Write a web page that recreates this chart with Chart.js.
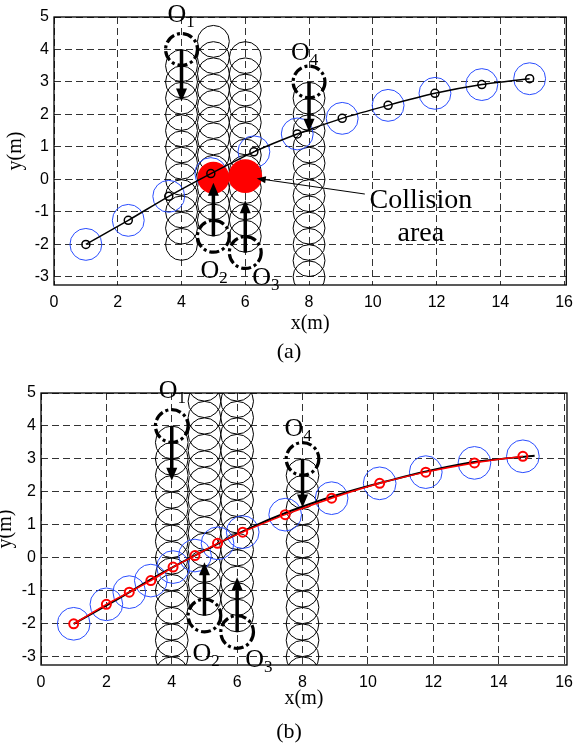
<!DOCTYPE html>
<html>
<head>
<meta charset="utf-8">
<script src="https://cdn.jsdelivr.net/npm/chart.js@4.4.1/dist/chart.umd.min.js"></script>
<style>
  html, body { margin: 0; padding: 0; background: #fff; }
  #wrapA { position: absolute; left: 0; top: 0; width: 581px; height: 365px; }
  #wrapB { position: absolute; left: 0; top: 365px; width: 581px; height: 384px; }
</style>
</head>
<body>
<div id="wrapA"><canvas id="chartA"></canvas></div>
<div id="wrapB"><canvas id="chartB"></canvas></div>
<script>
// axes
const xTicks = [0, 2, 4, 6, 8, 10, 12, 14, 16];
const yTicks = [-3, -2, -1, 0, 1, 2, 3, 4, 5];
const safeR = 0.5; // circle radius in metres

// (a) planned path
const pathAX = [1, 2.33, 3.6, 4.92, 6.27, 7.63, 9.04, 10.48, 11.95, 13.42, 14.92];
const pathAY = [-2, -1.26, -0.52, 0.18, 0.85, 1.4, 1.88, 2.28, 2.65, 2.92, 3.1];

// (b) planned path (red) and the reference line under it (black)
const pathBX = [1, 2, 2.7, 3.36, 4.04, 4.71, 5.4, 6.17, 7.47, 8.89, 10.36, 11.77, 13.26, 14.74];
const pathBY = [-2, -1.41, -1.04, -0.69, -0.28, 0.07, 0.44, 0.78, 1.31, 1.81, 2.26, 2.6, 2.88, 3.08];
const refBX = [1, 2.33, 3.6, 4.92, 6.27, 7.63, 9.04, 10.48, 11.95, 13.42, 15.1];
const refBY = [-2, -1.26, -0.52, 0.18, 0.85, 1.42, 1.9, 2.3, 2.66, 2.93, 3.1];

// moving obstacles O1..O4
const obsNames = ['1', '2', '3', '4'];
const obsX = [4, 5, 6, 8];
const obsStartY = [4, -1.75, -2.25, 3];
const arrowTipA = [2.4, -0.1, -0.64, 1.47];
const arrowTipB = [2.34, -0.13, -0.59, 1.53];

// predicted obstacle positions
const trailA = [
  [3.5, 3, 2.5, 2, 1.5, 1, 0.5, 0, -0.5, -1, -1.5, -2],
  [4.25, 3.75, 3.25, 2.75, 2.25, 1.75, 1.25, 0.75, 0.25, -0.25, -0.75, -1.25],
  [3.75, 3.25, 2.75, 2.25, 1.75, 1.25, 0.75, 0.25, -0.25, -0.75, -1.25, -1.75],
  [2.5, 2, 1.5, 1, 0.5, 0, -0.5, -1, -1.5, -2, -2.5, -3]
];
const trailB = [
  [3.5, 3, 2.5, 2, 1.5, 1, 0.5, 0, -0.5, -1, -1.5, -2, -2.5, -3, -3.5],
  [5.25, 4.75, 4.25, 3.75, 3.25, 2.75, 2.25, 1.75, 1.25, 0.75, 0.25, -0.25, -0.75, -1.25],
  [5.25, 4.75, 4.25, 3.75, 3.25, 2.75, 2.25, 1.75, 1.25, 0.75, 0.25, -0.25, -0.75, -1.25, -1.75],
  [2.5, 2, 1.5, 1, 0.5, 0, -0.5, -1, -1.5, -2, -2.5, -3, -3.5]
];

// collision area in (a)
const collX = [5, 6];
const collY = [0.05, 0.1];
const collR = [0.5, 0.53];

// label offsets (px) from each obstacle start
const labelOffA = [[-14, -27], [-13, 42], [7, 32], [-18, -22]];
const labelOffB = [[-13, -28], [-12, 45], [8, 35], [-18, -23]];

function pts(xs, ys) { return xs.map((x, i) => ({ x: x, y: ys[i] })); }
function trailPts(trails) {
  const out = [];
  trails.forEach((col, i) => col.forEach(y => out.push({ x: obsX[i], y: y })));
  return out;
}
function mPx(chart, m) {
  const s = chart.scales.x;
  return Math.abs(s.getPixelForValue(m) - s.getPixelForValue(0));
}

const overlay = {
  id: 'overlay',
  afterDatasetsDraw(chart, args, o) {
    const ctx = chart.ctx, a = chart.chartArea, x = chart.scales.x, y = chart.scales.y;
    ctx.save();
    ctx.beginPath();
    ctx.rect(a.left, a.top, a.right - a.left, a.bottom - a.top);
    ctx.clip();
    const r = mPx(chart, safeR);
    obsX.forEach((ox, i) => {
      const cx = x.getPixelForValue(ox), cy = y.getPixelForValue(obsStartY[i]);
      ctx.strokeStyle = '#000';
      ctx.lineWidth = 3.2;
      ctx.setLineDash([10, 3, 3, 3]);
      ctx.beginPath();
      ctx.arc(cx, cy, r, 0, Math.PI * 2);
      ctx.stroke();
      // arrow
      const ty = y.getPixelForValue(o.tips[i]);
      const dir = Math.sign(ty - cy);
      ctx.setLineDash([]);
      ctx.lineWidth = 3.5;
      ctx.beginPath();
      ctx.moveTo(cx, cy);
      ctx.lineTo(cx, ty - dir * 11);
      ctx.stroke();
      ctx.fillStyle = '#000';
      ctx.beginPath();
      ctx.moveTo(cx, ty);
      ctx.lineTo(cx - 5.5, ty - dir * 13);
      ctx.lineTo(cx + 5.5, ty - dir * 13);
      ctx.closePath();
      ctx.fill();
    });
    ctx.restore();

    ctx.save();
    // labels O1..O4
    ctx.fillStyle = '#000';
    ctx.textBaseline = 'alphabetic';
    ctx.textAlign = 'left';
    obsX.forEach((ox, i) => {
      const cx = x.getPixelForValue(ox), cy = y.getPixelForValue(obsStartY[i]);
      const lx = cx + o.labelOff[i][0], ly = cy + o.labelOff[i][1];
      ctx.font = '26px "Liberation Serif"';
      ctx.fillText('O', lx, ly);
      const w = ctx.measureText('O').width;
      ctx.font = '17px "Liberation Serif"';
      ctx.fillText(obsNames[i], lx + w, ly + 5);
    });

    // collision annotation
    if (o.note) {
      const sx = x.getPixelForValue(o.note.from[0]), sy = y.getPixelForValue(o.note.from[1]);
      const tx = x.getPixelForValue(o.note.to[0]), ty = y.getPixelForValue(o.note.to[1]);
      const ang = Math.atan2(ty - sy, tx - sx);
      ctx.strokeStyle = '#000';
      ctx.lineWidth = 1;
      ctx.beginPath();
      ctx.moveTo(sx, sy);
      ctx.lineTo(tx - Math.cos(ang) * 8, ty - Math.sin(ang) * 8);
      ctx.stroke();
      ctx.beginPath();
      ctx.moveTo(tx, ty);
      ctx.lineTo(tx - Math.cos(ang) * 9 - Math.sin(ang) * 3.5, ty - Math.sin(ang) * 9 + Math.cos(ang) * 3.5);
      ctx.lineTo(tx - Math.cos(ang) * 9 + Math.sin(ang) * 3.5, ty - Math.sin(ang) * 9 - Math.cos(ang) * 3.5);
      ctx.closePath();
      ctx.fill();
      ctx.font = '28px "Liberation Serif"';
      ctx.textAlign = 'center';
      ctx.fillText(o.note.lines[0], sx + 56, sy + 14);
      ctx.fillText(o.note.lines[1], sx + 56, sy + 47);
    }

    // frame
    ctx.strokeStyle = '#000';
    ctx.lineWidth = 1.3;
    ctx.strokeRect(a.left, a.top, a.right - a.left, a.bottom - a.top);

    // axis titles and caption
    ctx.textAlign = 'center';
    ctx.textBaseline = 'middle';
    ctx.font = '20px "Liberation Serif"';
    ctx.fillText('x(m)', (a.left + a.right) / 2, o.xTitleY);
    ctx.save();
    ctx.translate(o.yTitleX, (a.top + a.bottom) / 2);
    ctx.rotate(-Math.PI / 2);
    ctx.fillText('y(m)', 0, 0);
    ctx.restore();
    ctx.font = '22px "Liberation Serif"';
    ctx.fillText(o.caption, 289, o.captionY);
    ctx.restore();
  }
};

function makeChart(id, datasets, opts) {
  return new Chart(document.getElementById(id), {
    type: 'scatter',
    data: { datasets: datasets },
    options: {
      responsive: true,
      maintainAspectRatio: false,
      animation: false,
      events: [],
      layout: { padding: { top: opts.padTop, right: opts.padRight, left: 0, bottom: 0 } },
      plugins: { legend: { display: false }, tooltip: { enabled: false }, overlay: opts.overlay },
      scales: {
        x: {
          type: 'linear', min: 0, max: opts.xMax,
          afterBuildTicks: s => { s.ticks = xTicks.map(v => ({ value: v })); },
          afterFit: s => { s.height = opts.xH; },
          grid: { color: '#333', lineWidth: 1, drawTicks: false },
          border: { display: false, dash: [7, 4] },
          ticks: { color: '#000', font: { family: 'Liberation Sans', size: 16 }, padding: 8, maxRotation: 0, autoSkip: false }
        },
        y: {
          type: 'linear', min: -3.25, max: 5,
          afterBuildTicks: s => { s.ticks = yTicks.map(v => ({ value: v })); },
          afterFit: s => { s.width = opts.yW; },
          grid: { color: '#333', lineWidth: 1, drawTicks: false },
          border: { display: false, dash: [7, 4] },
          ticks: { color: '#000', font: { family: 'Liberation Sans', size: 16 }, padding: 5, autoSkip: false }
        }
      }
    },
    plugins: [overlay]
  });
}

const circleR = c => mPx(c.chart, safeR);

makeChart('chartA', [
  {
    data: pts(pathAX, pathAY), showLine: true, tension: 0.25, clip: 0,
    borderColor: '#000', borderWidth: 1.5,
    pointRadius: 4, pointBorderWidth: 1.5, pointBorderColor: '#000', pointBackgroundColor: 'rgba(0,0,0,0)'
  },
  {
    data: pts(collX, collY), clip: 0,
    pointRadius: c => mPx(c.chart, collR[c.dataIndex]), pointBorderWidth: 0,
    pointBackgroundColor: '#ff0000', pointBorderColor: '#ff0000'
  },
  {
    data: pts(pathAX, pathAY), clip: 0,
    pointRadius: circleR, pointBorderWidth: 1, pointBorderColor: '#2a4dff', pointBackgroundColor: 'rgba(0,0,0,0)'
  },
  {
    data: trailPts(trailA), clip: 0,
    pointRadius: circleR, pointBorderWidth: 1, pointBorderColor: '#000', pointBackgroundColor: 'rgba(0,0,0,0)'
  }
], {
  padTop: 17, padRight: 8, xMax: 16.07, xH: 80, yW: 54,
  overlay: {
    tips: arrowTipA, labelOff: labelOffA,
    note: { from: [9.75, -0.45], to: [6.36, 0.03], lines: ['Collision', 'area'] },
    xTitleY: 324, yTitleX: 16, caption: '(a)', captionY: 352
  }
});

makeChart('chartB', [
  {
    data: pts(pathBX, pathBY), showLine: true, tension: 0.25, clip: 0,
    borderColor: '#ff0000', borderWidth: 1.5,
    pointRadius: 4.5, pointBorderWidth: 2, pointBorderColor: '#ff0000', pointBackgroundColor: 'rgba(0,0,0,0)'
  },
  {
    data: pts(refBX, refBY), showLine: true, tension: 0.25, clip: 0,
    borderColor: '#000', borderWidth: 2, pointRadius: 0
  },
  {
    data: pts(pathBX, pathBY), clip: 0,
    pointRadius: circleR, pointBorderWidth: 1, pointBorderColor: '#2a4dff', pointBackgroundColor: 'rgba(0,0,0,0)'
  },
  {
    data: trailPts(trailB), clip: 0,
    pointRadius: circleR, pointBorderWidth: 1, pointBorderColor: '#000', pointBackgroundColor: 'rgba(0,0,0,0)'
  }
], {
  padTop: 28, padRight: 9, xMax: 16.09, xH: 84, yW: 41,
  overlay: {
    tips: arrowTipB, labelOff: labelOffB, note: null,
    xTitleY: 334, yTitleX: 6, caption: '(b)', captionY: 367
  }
});
</script>
</body>
</html>
